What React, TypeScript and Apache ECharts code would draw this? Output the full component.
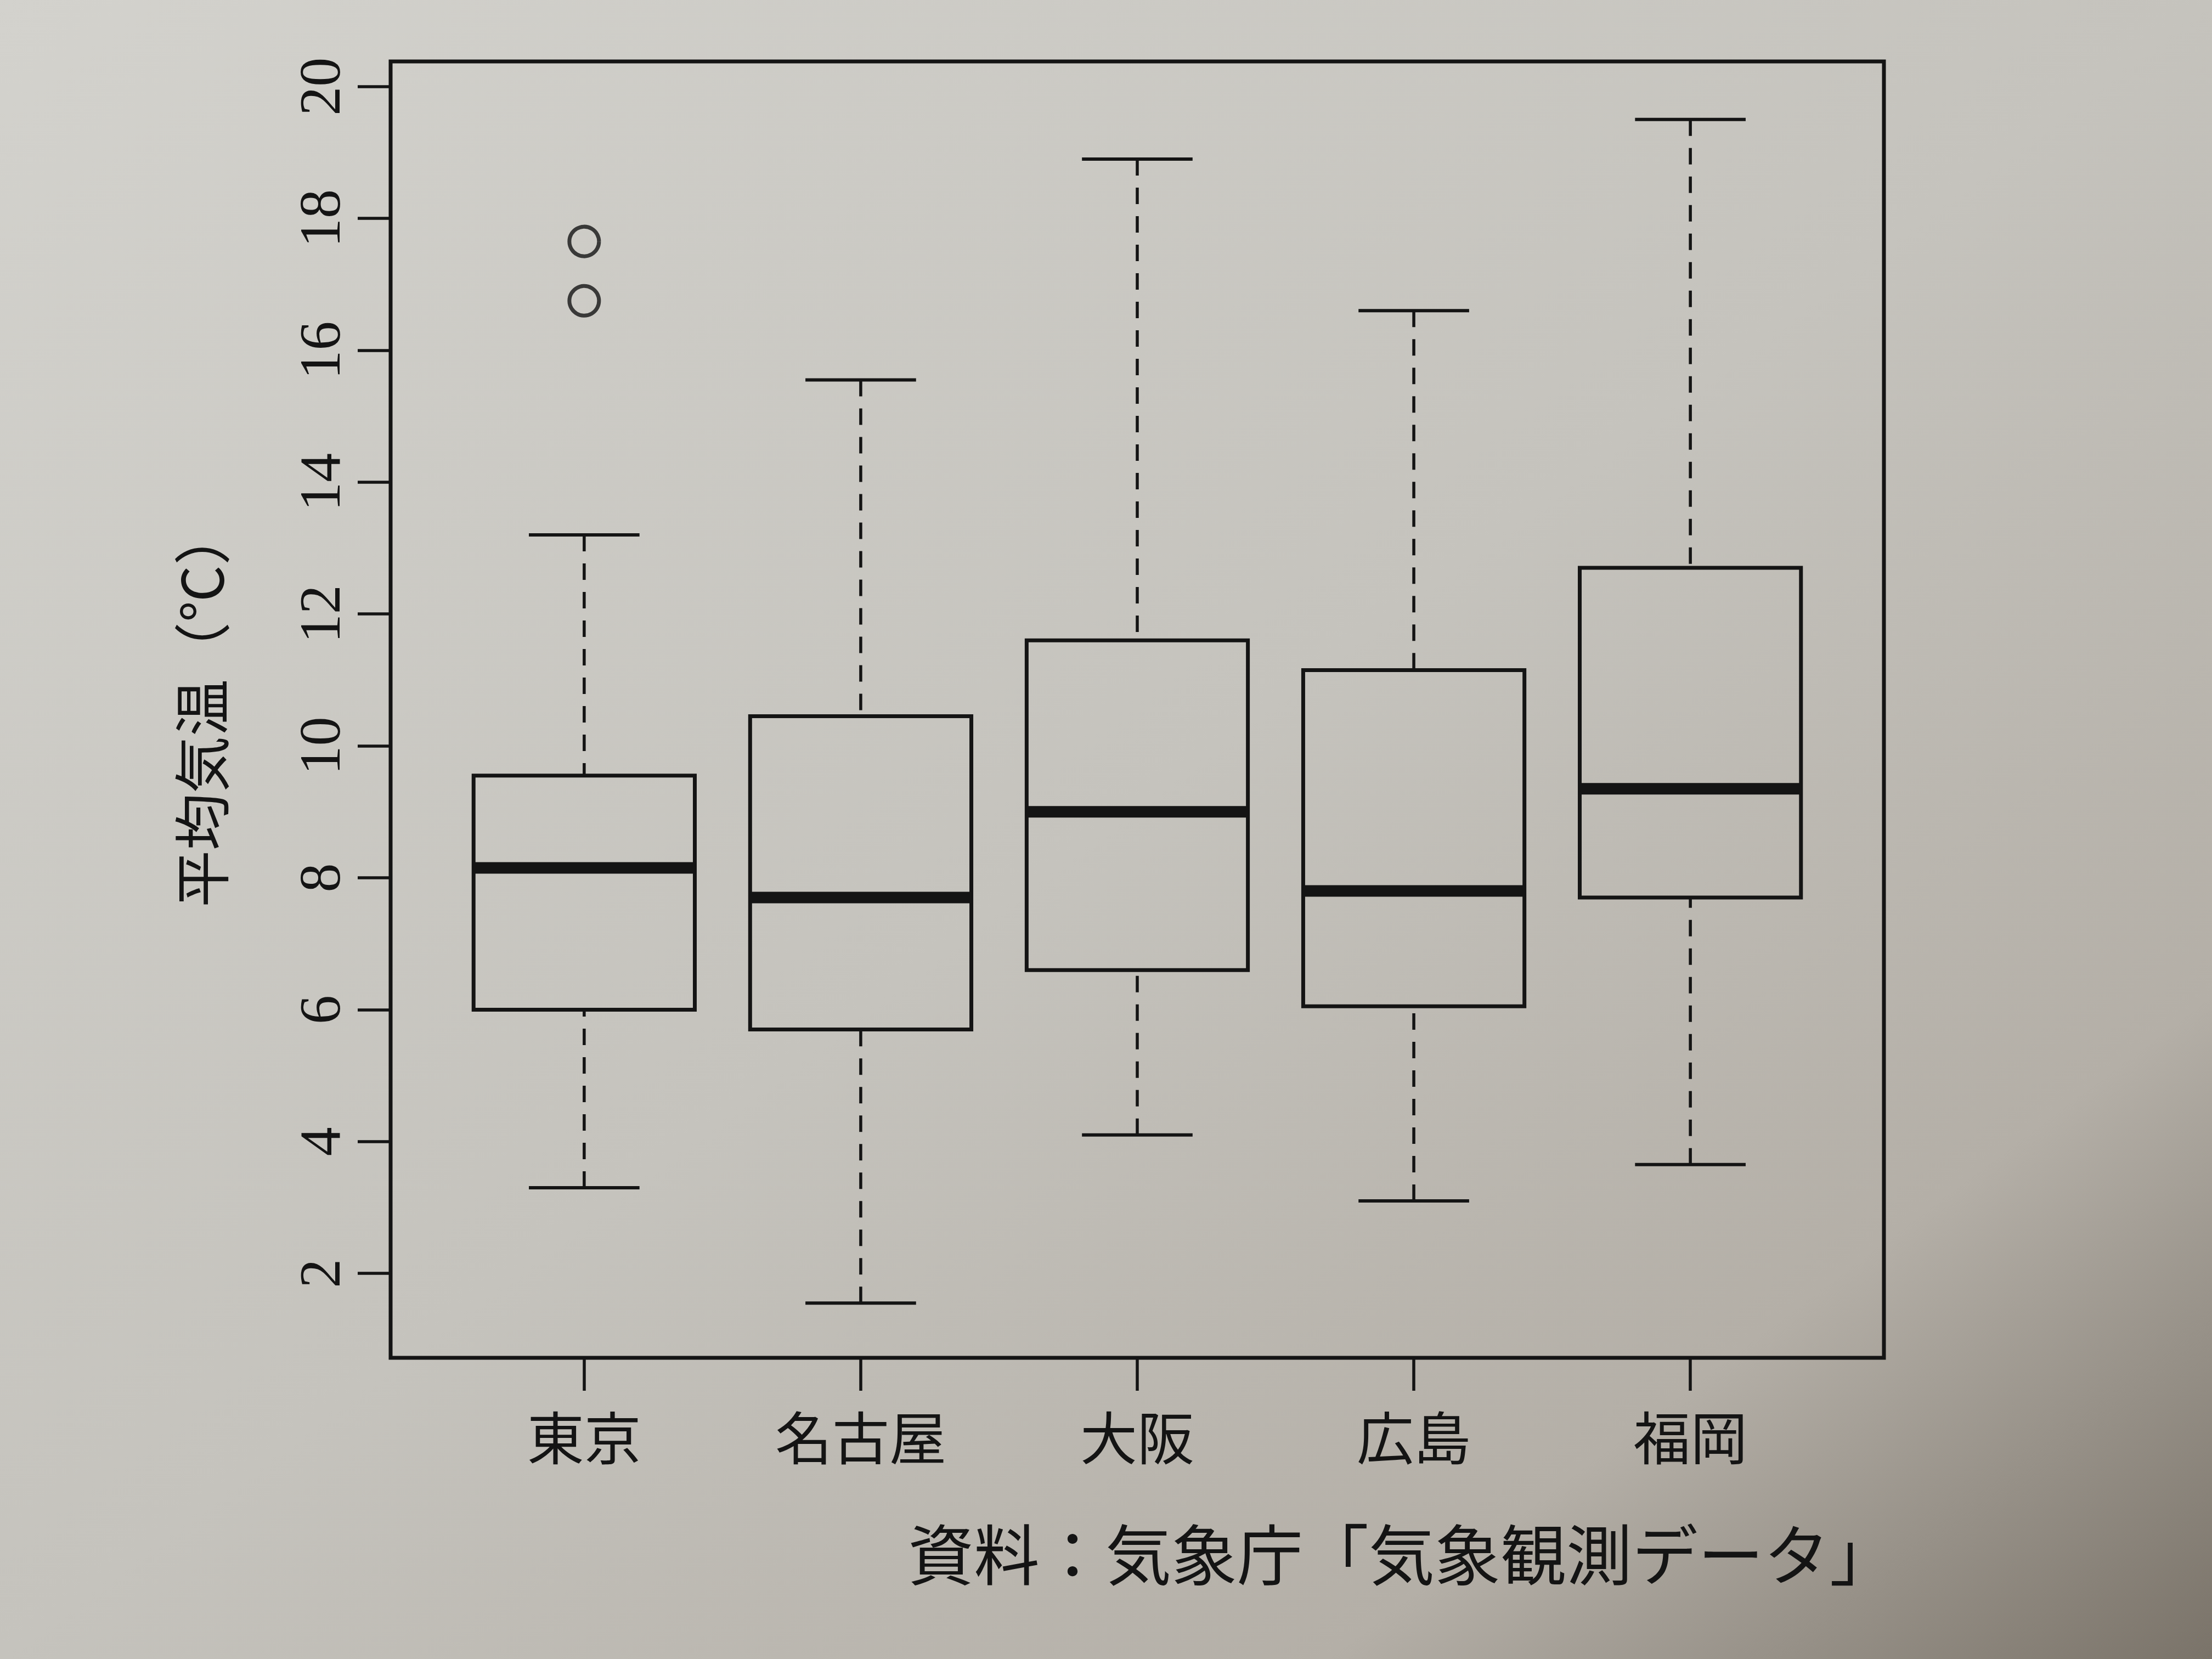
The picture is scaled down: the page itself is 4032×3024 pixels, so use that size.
import React, { useEffect, useRef } from "react";
import * as echarts from "echarts";

// ---- data ----
const CITIES = ["東京", "名古屋", "大阪", "広島", "福岡"];
const LOWER_WHISKER = [3.3, 1.55, 4.1, 3.1, 3.65];
const Q1 = [6.0, 5.7, 6.6, 6.05, 7.7];
const MEDIAN = [8.15, 7.7, 9.0, 7.8, 9.35];
const Q3 = [9.55, 10.45, 11.6, 11.15, 12.7];
const UPPER_WHISKER = [13.2, 15.55, 18.9, 16.6, 19.5];
const OUTLIER_CITY_INDEX = [0, 0];
const OUTLIER_VALUES = [16.75, 17.65];
const Y_TICKS = [2, 4, 6, 8, 10, 12, 14, 16, 18, 20];
const Y_TITLE = "平均気温（℃）";
const SOURCE = "資料：気象庁「気象観測データ」";

// ---- style constants ----
const INK = "#141414";
const BOX_HALF = 0.4;
const CAP_HALF = 0.2;
const NUM_FONT = "'Liberation Serif', 'DejaVu Serif', serif";
const JP_FONT = "'Noto Sans CJK JP', sans-serif";

export default function App() {
  const ref = useRef<HTMLDivElement>(null);

  useEffect(() => {
    if (!ref.current) return;
    const chart = echarts.init(ref.current, undefined, { renderer: "svg" });

    const boxData = CITIES.map((_, i) => [
      i + 1,
      LOWER_WHISKER[i],
      Q1[i],
      MEDIAN[i],
      Q3[i],
      UPPER_WHISKER[i],
    ]);
    const outlierData = OUTLIER_VALUES.map((v, i) => [OUTLIER_CITY_INDEX[i] + 1, v]);
    const xPositions = CITIES.map((_, i) => i + 1);

    const renderBox = (_params: any, api: any) => {
      const x = api.value(0);
      const lo = api.value(1);
      const q1 = api.value(2);
      const md = api.value(3);
      const q3 = api.value(4);
      const hi = api.value(5);
      const c = (xx: number, yy: number) => api.coord([xx, yy]);
      const tl = c(x - BOX_HALF, q3);
      const br = c(x + BOX_HALF, q1);
      const mL = c(x - BOX_HALF, md);
      const mR = c(x + BOX_HALF, md);
      const top = c(x, hi);
      const q3p = c(x, q3);
      const q1p = c(x, q1);
      const bot = c(x, lo);
      const capTL = c(x - CAP_HALF, hi);
      const capTR = c(x + CAP_HALF, hi);
      const capBL = c(x - CAP_HALF, lo);
      const capBR = c(x + CAP_HALF, lo);
      const dash = { stroke: INK, lineWidth: 5.5, lineDash: [30, 22], fill: null };
      const solid = { stroke: INK, lineWidth: 6, fill: null };
      return {
        type: "group",
        children: [
          { type: "line", shape: { x1: top[0], y1: top[1], x2: q3p[0], y2: q3p[1] }, style: dash },
          { type: "line", shape: { x1: bot[0], y1: bot[1], x2: q1p[0], y2: q1p[1] }, style: dash },
          { type: "line", shape: { x1: capTL[0], y1: capTL[1], x2: capTR[0], y2: capTR[1] }, style: solid },
          { type: "line", shape: { x1: capBL[0], y1: capBL[1], x2: capBR[0], y2: capBR[1] }, style: solid },
          {
            type: "rect",
            shape: { x: tl[0], y: tl[1], width: br[0] - tl[0], height: br[1] - tl[1] },
            style: { stroke: INK, lineWidth: 7, fill: null },
          },
          {
            type: "line",
            shape: { x1: mL[0], y1: mL[1], x2: mR[0], y2: mR[1] },
            style: { stroke: INK, lineWidth: 21, fill: null },
          },
        ],
      };
    };

    chart.setOption({
      animation: false,
      backgroundColor: new echarts.graphic.LinearGradient(0, 0, 1, 1, [
        { offset: 0, color: "#d3d2cd" },
        { offset: 0.5, color: "#c5c3bd" },
        { offset: 0.8, color: "#b4afa7" },
        { offset: 1, color: "#7a7369" },
      ]),
      grid: {
        left: 712,
        top: 112,
        width: 2722,
        height: 2363,
        show: true,
        borderColor: INK,
        borderWidth: 7,
        backgroundColor: "transparent",
        containLabel: false,
      },
      xAxis: {
        type: "value",
        min: 0.3,
        max: 5.7,
        axisLine: { show: false },
        splitLine: { show: false },
        axisTick: {
          show: true,
          customValues: xPositions,
          length: 60,
          lineStyle: { color: INK, width: 5.5 },
        },
        axisLabel: {
          show: true,
          customValues: xPositions,
          formatter: (v: number) => CITIES[Math.round(v) - 1] ?? "",
          fontFamily: JP_FONT,
          fontSize: 104,
          color: INK,
          margin: 88,
        },
      },
      yAxis: {
        type: "value",
        min: 0.72,
        max: 20.38,
        axisLine: { show: false },
        splitLine: { show: false },
        axisTick: {
          show: true,
          customValues: Y_TICKS,
          length: 60,
          lineStyle: { color: INK, width: 5.5 },
        },
        axisLabel: {
          show: true,
          customValues: Y_TICKS,
          rotate: 90,
          formatter: (v: number) => String(v),
          fontFamily: NUM_FONT,
          fontSize: 106,
          color: INK,
          margin: 76,
        },
      },
      graphic: [
        {
          type: "text",
          x: 362,
          y: 1290,
          rotation: Math.PI / 2,
          style: {
            text: Y_TITLE,
            fontFamily: JP_FONT,
            fontSize: 104,
            fill: INK,
            align: "center",
            verticalAlign: "middle",
          },
        },
        {
          type: "text",
          x: 3455,
          y: 2828,
          style: {
            text: SOURCE,
            fontFamily: JP_FONT,
            fontSize: 120,
            fill: INK,
            align: "right",
            verticalAlign: "middle",
          },
        },
      ],
      series: [
        {
          type: "custom",
          renderItem: renderBox,
          data: boxData,
          encode: { x: 0, y: [1, 2, 3, 4, 5] },
          silent: true,
        },
        {
          type: "scatter",
          data: outlierData,
          symbol: "circle",
          symbolSize: 54,
          itemStyle: { color: "transparent", borderColor: INK, borderWidth: 7 },
          silent: true,
        },
      ],
    });

    return () => chart.dispose();
  }, []);

  return (
    <div
      ref={ref}
      style={{ position: "fixed", left: 0, top: 0, width: 4032, height: 3024 }}
    />
  );
}
